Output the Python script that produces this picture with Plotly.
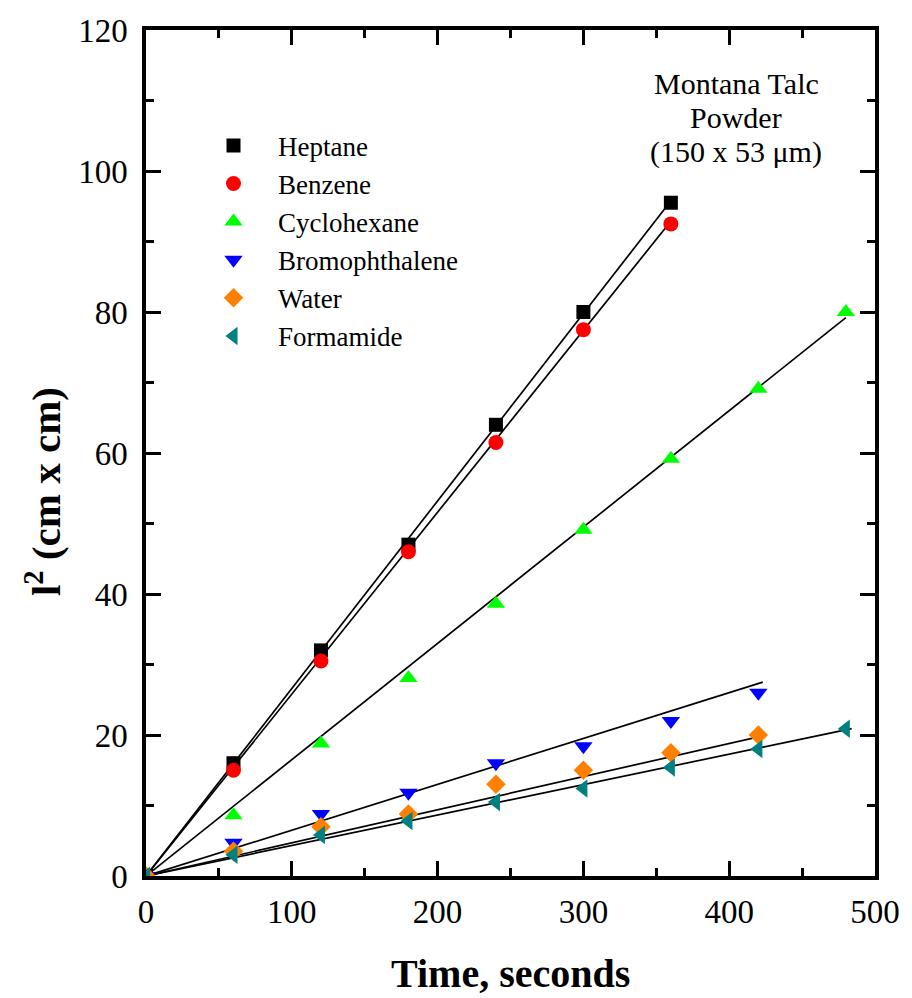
import plotly.graph_objects as go

# Capillary rise in Montana talc powder: squared penetration length vs time
times = [0, 60, 120, 180, 240, 300, 360, 420, 480]

names = ["Heptane", "Benzene", "Cyclohexane", "Bromophthalene", "Water", "Formamide"]
heptane = [0, 16, 32, 47, 64, 80, 95.5]
benzene = [0, 15, 30.5, 46, 61.5, 77.5, 92.5]
cyclohexane = [0, 8.6, 18.8, 28.1, 38.6, 49.1, 59.2, 69.1, 80]
bromophthalene = [0, 4.7, 8.8, 11.8, 16, 18.4, 22, 26]
water = [0, 3.5, 7, 8.8, 13, 15, 17.5, 20]
formamide = [0, 3, 5.8, 7.8, 10.5, 12.4, 15.4, 18, 20.9]

# straight-line fits l^2 = k * t (slope and end time of each fitted line)
fit_slope = [0.266, 0.258, 0.165, 0.065, 0.047, 0.0432]
fit_end = [359, 359, 480, 423, 424, 484]

values = [heptane, benzene, cyclohexane, bromophthalene, water, formamide]
symbols = ["square", "circle", "triangle-up", "triangle-down", "diamond", "triangle-left"]
colors = ["#000000", "#ff0000", "#00ff00", "#0000ff", "#ff8000", "#008080"]
sizes = [14, 15, 16, 16, 15, 16]

FONT = "Liberation Serif, Times New Roman, serif"

fig = go.Figure()

for k, xe in zip(fit_slope, fit_end):
    fig.add_trace(go.Scatter(
        x=[0, xe], y=[0, k * xe], mode="lines",
        line=dict(color="black", width=1.7),
        showlegend=False, hoverinfo="skip",
    ))

for name, vals, sym, col, size in zip(names, values, symbols, colors, sizes):
    fig.add_trace(go.Scatter(
        x=times[:len(vals)], y=vals, mode="markers", name=name,
        marker=dict(symbol=sym, color=col, size=size, line=dict(width=0)),
    ))

axis_common = dict(
    showline=True, linecolor="black", linewidth=3.5, mirror="allticks",
    ticks="inside", ticklen=15, tickwidth=2.5, tickcolor="black",
    showgrid=False, zeroline=False,
    tickfont=dict(family=FONT, size=33, color="black"),
)

fig.update_xaxes(
    range=[0, 500], tickvals=[0, 100, 200, 300, 400, 500],
    minor=dict(ticks="inside", ticklen=8, tickwidth=2.5, tickcolor="black", dtick=50),
    ticklabelstandoff=4,
    **axis_common,
)
fig.update_yaxes(
    range=[0, 120], tickvals=[0, 20, 40, 60, 80, 100, 120],
    minor=dict(ticks="inside", ticklen=8, tickwidth=2.5, tickcolor="black", dtick=10),
    ticklabelstandoff=8,
    **axis_common,
)

# axis titles
fig.add_annotation(
    text="<b>Time, seconds</b>", xref="paper", yref="paper", x=0.5, y=-0.1147,
    xanchor="center", yanchor="middle", showarrow=False,
    font=dict(family=FONT, size=40, color="black"),
)
fig.add_annotation(
    text="<b>l<sup>2</sup> (cm x cm)</b>", xref="paper", yref="paper", x=-0.1413, y=0.455,
    xanchor="center", yanchor="middle", showarrow=False, textangle=-90,
    font=dict(family=FONT, size=41, color="black"),
)

# sample description
note_lines = ["Montana Talc", "Powder", "(150 x 53 \u03bcm)"]
for line, yp in zip(note_lines, [0.937, 0.897, 0.856]):
    fig.add_annotation(
        text=line, xref="paper", yref="paper", x=0.810, y=yp,
        xanchor="center", yanchor="middle", showarrow=False,
        font=dict(family=FONT, size=30, color="black"),
    )

fig.update_layout(
    width=912, height=998,
    margin=dict(l=146, r=30, t=30, b=122),
    plot_bgcolor="white", paper_bgcolor="white",
    showlegend=True,
    legend=dict(
        x=0.059, y=0.892, xanchor="left", yanchor="top",
        bgcolor="rgba(0,0,0,0)", borderwidth=0,
        font=dict(family=FONT, size=27, color="black"),
        tracegroupgap=0, itemwidth=79,
    ),
)

fig.write_html("out.html")
